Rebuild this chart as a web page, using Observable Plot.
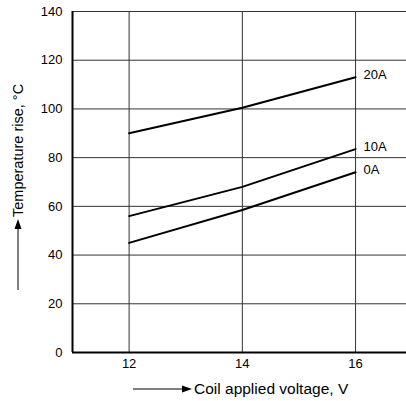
<!DOCTYPE html>
<html><head><meta charset="utf-8">
<script src="https://cdn.jsdelivr.net/npm/d3@7"></script>
<script src="https://cdn.jsdelivr.net/npm/@observablehq/plot@0.6"></script>
<style>body{margin:0;background:#fff;font-family:"Liberation Sans",Arial,sans-serif}</style>
</head><body><div id="chart"></div>
<script>
const voltages = [12, 14, 16];
const series = ["0A", "10A", "20A"];
const rise0A = [45, 58.5, 74];
const rise10A = [56, 68, 83.5];
const rise20A = [90, 100.5, 113];
const xTicks = [12, 14, 16];
const yTicks = [0, 20, 40, 60, 80, 100, 120, 140];

const valuesBySeries = {"0A": rise0A, "10A": rise10A, "20A": rise20A};
const data = series.flatMap(s => voltages.map((v, i) => ({series: s, v, t: valuesBySeries[s][i]})));
const ends = series.map(s => ({series: s, v: voltages[voltages.length-1], t: valuesBySeries[s][voltages.length-1]}));

const plot = Plot.plot({
  width: 406, height: 401,
  marginLeft: 72, marginRight: 0, marginTop: 11, marginBottom: 49,
  style: {fontFamily: '"Liberation Sans", Arial, sans-serif', fontSize: "13px", color: "#000", background: "#fff"},
  x: {domain: [11, 16.9], label: null},
  y: {domain: [0, 140], label: null},
  marks: [
    Plot.gridX(xTicks, {stroke: "#333", strokeOpacity: 1, strokeWidth: 1}),
    Plot.gridY(yTicks, {stroke: "#333", strokeOpacity: 1, strokeWidth: 1}),
    Plot.axisX({ticks: xTicks, tickSize: 0, tickPadding: 6, fontSize: 13, tickFormat: "d", label: null, fill: "#000"}),
    Plot.axisY({ticks: yTicks, tickSize: 0, tickPadding: 10, fontSize: 13, tickFormat: "d", label: null, fill: "#000"}),
    Plot.ruleY([0], {stroke: "#000", strokeWidth: 2}),
    Plot.ruleX([11], {stroke: "#000", strokeWidth: 2}),
    Plot.line(data, {x: "v", y: "t", z: "series", stroke: "#000", strokeWidth: 2}),
    Plot.text(ends, {x: "v", y: "t", text: "series", textAnchor: "start", dx: 8, dy: -2, fontSize: 13, fill: "#000"})
  ]
});
document.getElementById("chart").appendChild(plot);

const svg = d3.select(plot);
// x axis title with arrow
const gx = svg.append("g");
gx.append("line").attr("x1", 133).attr("x2", 184).attr("y1", 389).attr("y2", 389).attr("stroke", "#000").attr("stroke-width", 1);
gx.append("path").attr("d", "M192,389 L182,385.5 L182,392.5 Z").attr("fill", "#000");
gx.append("text").attr("x", 194).attr("y", 389).attr("dy", "0.35em").attr("text-anchor", "start").attr("font-size", 15.5).attr("fill", "#000").text("Coil applied voltage, V");
// y axis title with arrow
const gy = svg.append("g").attr("transform", "translate(18,0)");
gy.append("line").attr("x1", 0).attr("x2", 0).attr("y1", 290).attr("y2", 227).attr("stroke", "#000").attr("stroke-width", 1);
gy.append("path").attr("d", "M0,219 L-3.5,229 L3.5,229 Z").attr("fill", "#000");
gy.append("text").attr("transform", "translate(0,217) rotate(-90)").attr("dy", "0.35em").attr("text-anchor", "start").attr("font-size", 14.5).attr("fill", "#000").text("Temperature rise, °C");
</script></body></html>
